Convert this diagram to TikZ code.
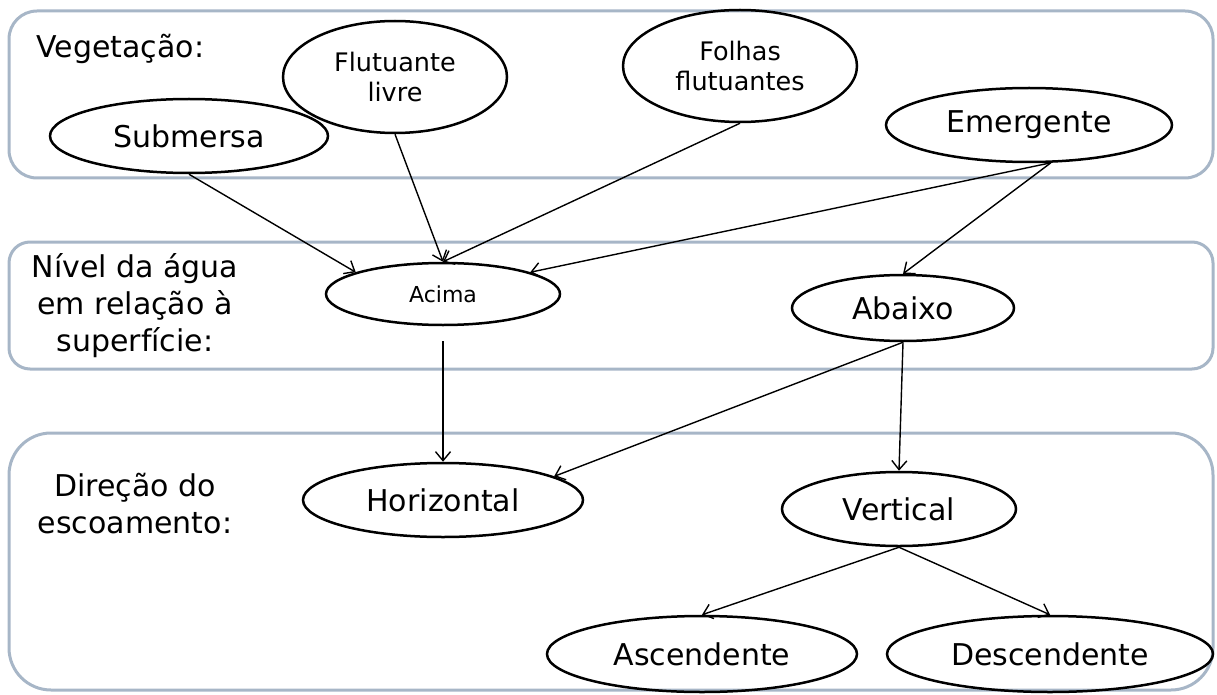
\documentclass[tikz,border=0pt]{standalone}
\usepackage{fontspec}
\setmainfont{DejaVu Sans}
\usetikzlibrary{arrows.meta,positioning,calc,shapes}
\definecolor{boxgray}{RGB}{167,182,199}

\begin{document}
\begin{tikzpicture}[x=1pt,y=-1pt,
    grp/.style={draw=boxgray,line width=3pt},
    oval/.style={draw,ellipse,line width=2.5pt,inner sep=0pt,align=center},
    big/.style={font=\fontsize{30}{37}\selectfont},
    mid/.style={font=\fontsize{25.5}{30}\selectfont},
    small/.style={font=\fontsize{22}{26}\selectfont},
    link/.style={-{Straight Barb[length=9pt,width=15pt]},line width=1.4pt}]
    \useasboundingbox (0,0) rectangle (1217,695);

    % Groups
    \draw[grp,rounded corners=28pt] (9,11) rectangle (1213,178);
    \draw[grp,rounded corners=21pt] (9,242) rectangle (1213,369);
    \draw[grp,rounded corners=42pt] (9,433) rectangle (1213,690);

    % Group labels
    \node[big,anchor=base west] (veglbl) at (33,58) {Vegetação:};
    \node[big,align=center] (nivlbl) at (135,306) {Nível da água\\em relação à\\superfície:};
    \node[big,align=center] (dirlbl) at (135,504) {Direção do\\escoamento:};

    % Vegetation
    \node[oval,big,minimum width=278pt,minimum height=74pt] (sub) at (189,136) {Submersa};
    \node[oval,mid,minimum width=224pt,minimum height=112pt] (flut) at (395,77) {Flutuante\\livre};
    \node[oval,mid,minimum width=234pt,minimum height=112pt] (folhas) at (740,66) {Folhas\\flutuantes};
    \node[oval,big,minimum width=286pt,minimum height=74pt] (emerg) at (1029,125) {Emergente};

    % Water level
    \node[oval,small,minimum width=234pt,minimum height=62pt] (acima) at (443,294) {Acima};
    \node[oval,big,minimum width=222pt,minimum height=66pt] (abaixo) at (903,308) {Abaixo};

    % Flow direction
    \node[oval,big,minimum width=280pt,minimum height=74pt] (horiz) at (443,500) {Horizontal};
    \node[oval,big,minimum width=234pt,minimum height=74pt] (vert) at (899,509) {Vertical};
    \node[oval,big,minimum width=310pt,minimum height=76pt] (asc) at (702,654) {Ascendente};
    \node[oval,big,minimum width=326pt,minimum height=76pt] (desc) at (1050,654) {Descendente};

    % Links
    \draw[link] (sub.south) -- (acima.166);
    \draw[link] (flut.south) -- (acima.north);
    \draw[link] (folhas.south) -- (acima.north);
    \draw[link] (emerg.-60) -- (acima.14);
    \draw[link] (emerg.-60) -- (abaixo.north);
    \draw[link,shorten <=15pt] (acima.south) -- (horiz.north);
    \draw[link] (abaixo.south) -- (horiz.12);
    \draw[link] (abaixo.south) -- (vert.north);
    \draw[link] (vert.south) -- (asc.north);
    \draw[link] (vert.south) -- (desc.north);
\end{tikzpicture}
\end{document}
